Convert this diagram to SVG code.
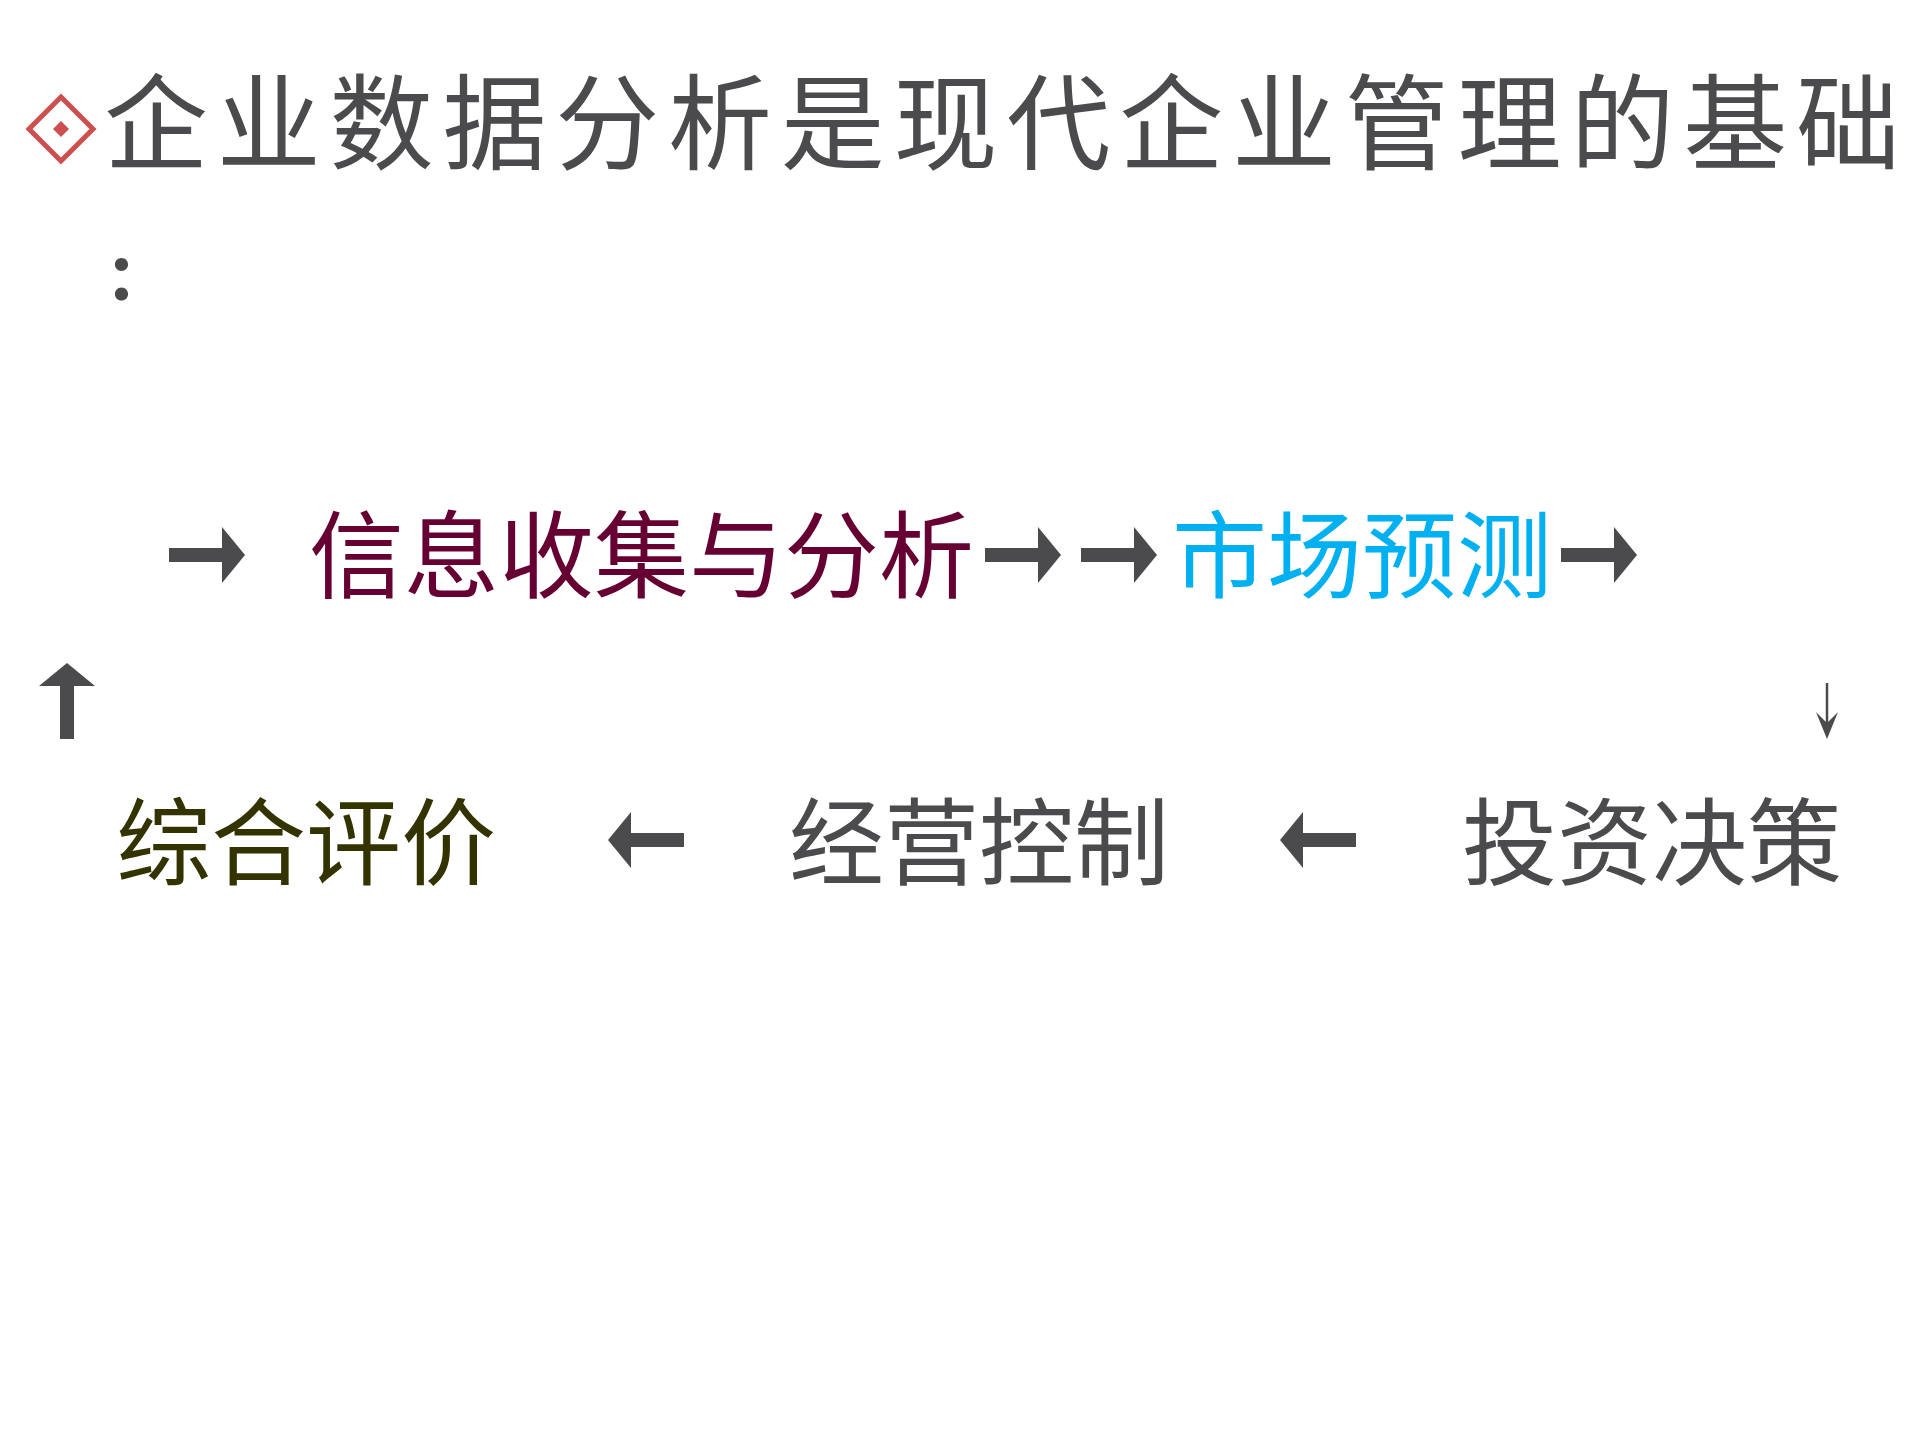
<svg xmlns="http://www.w3.org/2000/svg" xmlns:xlink="http://www.w3.org/1999/xlink" width="1920" height="1440" viewBox="0 0 1920 1440">
<style>
.t{font-family:"Noto Sans CJK SC","Noto Sans CJK JP",sans-serif}
.title{font-size:104px;letter-spacing:8.8px;fill:#4b4b4d}
.colon{font-size:62px;font-weight:900;fill:#4b4b4d}
.body{font-size:95px}
.maroon{fill:#660033}
.blue{fill:#00b0f0}
.olive{fill:#333300}
.gray{fill:#4b4b4d}
.arr{fill:#4b4b4d}
</style>
<defs>
<path id="arr" d="M-76,-7 H-23 V-28 L0,0 L-23,28 V7 H-76 Z"/>
</defs>
<rect width="1920" height="1440" fill="#ffffff"/>
<g id="title">
<g id="bullet">
<path d="M61,97 L93,129 L61,161 L29,129 Z" fill="none" stroke="#cd4f4f" stroke-width="5"/>
<path d="M61,121 L69,129 L61,137 L53,129 Z" fill="#cd4f4f"/>
</g>
<text class="t title" x="104" y="162">企业数据分析是现代企业管理的基础</text>
<text class="t colon" x="106" y="300">：</text>
</g>
<g id="node-info"><text class="t body maroon" x="309" y="591">信息收集与分析</text></g>
<g id="node-market"><text class="t body blue" x="1172" y="591">市场预测</text></g>
<g id="node-invest"><text class="t body gray" x="1462" y="878">投资决策</text></g>
<g id="node-control"><text class="t body gray" x="789" y="878">经营控制</text></g>
<g id="node-eval"><text class="t body olive" x="116" y="878">综合评价</text></g>
<g id="connectors" class="arr">
<use xlink:href="#arr" transform="translate(245,555)"/>
<use xlink:href="#arr" transform="translate(1061,555)"/>
<use xlink:href="#arr" transform="translate(1157,555)"/>
<use xlink:href="#arr" transform="translate(1637,555)"/>
<use xlink:href="#arr" transform="translate(1280,840) rotate(180)"/>
<use xlink:href="#arr" transform="translate(608,840) rotate(180)"/>
<use xlink:href="#arr" transform="translate(67,663) rotate(-90)"/>
<line x1="1827" y1="683" x2="1827" y2="728" stroke="#4b4b4d" stroke-width="2.5"/>
<path d="M1827,739 L1816,712 L1827,723 L1838,712 Z"/>
</g>
</svg>
